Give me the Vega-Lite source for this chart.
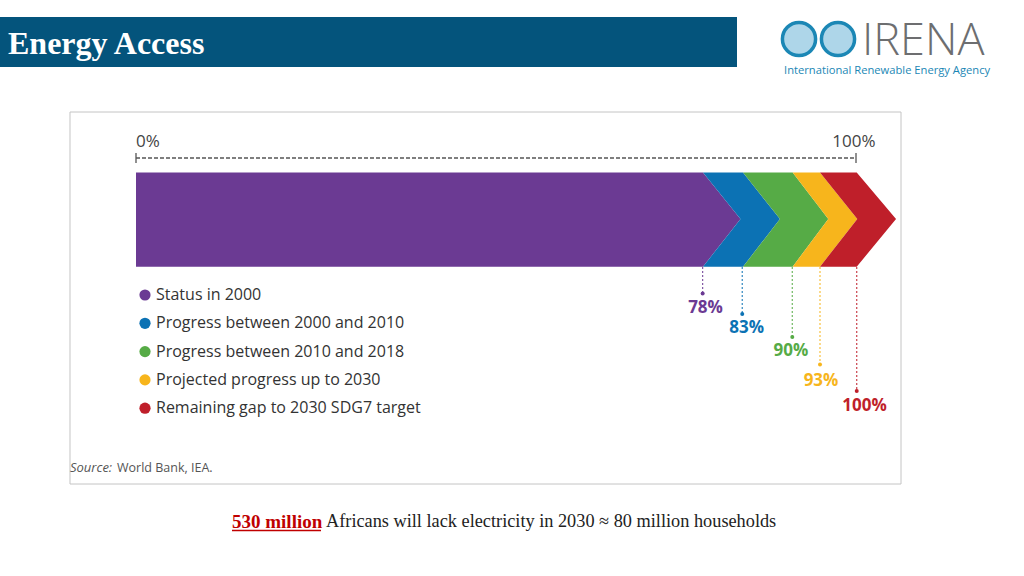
{
  "$schema": "https://vega.github.io/schema/vega-lite/v6.json",
  "width": 1024,
  "height": 576,
  "autosize": {"type": "fit", "contains": "padding"},
  "padding": 0,
  "background": "white",
  "config": {"view": {"stroke": null}},
  "encoding": {
    "x": {"field": "x", "type": "quantitative", "scale": {"domain": [-18.889, 123.333], "nice": false, "zero": false}, "axis": null},
    "y": {"field": "y", "type": "quantitative", "scale": {"domain": [0, 576], "nice": false, "zero": false, "reverse": true}, "axis": null}
  },
  "layer": [
    {
      "data": {"values": [{"x": -18.889, "x2": 83.472, "y": 17, "y2": 67}]},
      "mark": {"type": "rect", "fill": "#04547c"},
      "encoding": {"x2": {"field": "x2"}, "y2": {"field": "y2"}}
    },
    {
      "data": {"values": [{"x": -17.778, "y": 44, "t": "Energy Access"}]},
      "mark": {"type": "text", "align": "left", "baseline": "middle", "font": "Liberation Serif", "fontWeight": "bold", "fontSize": 32, "color": "white"},
      "encoding": {"text": {"field": "t"}}
    },
    {
      "data": {"values": [{"x": 92.083, "y": 39}, {"x": 97.5, "y": 39}]},
      "mark": {"type": "point", "shape": "circle", "size": 1100, "filled": false, "fill": "#8cc4e0", "fillOpacity": 0.7, "stroke": "#1b87b5", "strokeWidth": 3.5, "opacity": 1}
    },
    {
      "data": {"values": [{"x": 100.833, "y": 55, "t": "IRENA"}]},
      "mark": {"type": "text", "align": "left", "baseline": "alphabetic", "font": "Open Sans", "fontWeight": 300, "fontSize": 45, "color": "#6d6e70"},
      "encoding": {"text": {"field": "t"}}
    },
    {
      "data": {"values": [{"x": 90.0, "y": 71, "t": "International Renewable Energy Agency"}]},
      "mark": {"type": "text", "align": "left", "baseline": "middle", "font": "Open Sans", "fontSize": 11.2, "color": "#1b87b5"},
      "encoding": {"text": {"field": "t"}}
    },
    {
      "data": {"values": [{"x": -9.167, "x2": 106.25, "y": 112, "y2": 484}]},
      "mark": {"type": "rect", "fill": "white", "fillOpacity": 0, "stroke": "#c4c4c4", "strokeWidth": 1},
      "encoding": {"x2": {"field": "x2"}, "y2": {"field": "y2"}}
    },
    {
      "data": {"values": [{"x": 0, "y": 142, "t": "0%"}]},
      "mark": {"type": "text", "align": "left", "baseline": "middle", "font": "Open Sans", "fontSize": 17, "color": "#444"},
      "encoding": {"text": {"field": "t"}}
    },
    {
      "data": {"values": [{"x": 99.7, "y": 142, "t": "100%"}]},
      "mark": {"type": "text", "align": "center", "baseline": "middle", "font": "Open Sans", "fontSize": 17, "color": "#444"},
      "encoding": {"text": {"field": "t"}}
    },
    {
      "data": {"values": [{"x": 0, "x2": 100, "y": 158}]},
      "mark": {"type": "rule", "stroke": "#555", "strokeWidth": 1.5, "strokeDash": [4, 2]},
      "encoding": {"x2": {"field": "x2"}}
    },
    {
      "data": {"values": [{"x": 0, "y": 153, "y2": 163}, {"x": 100, "y": 153, "y2": 163}]},
      "mark": {"type": "rule", "stroke": "#555", "strokeWidth": 1.3},
      "encoding": {"y2": {"field": "y2"}}
    },
    {
      "data": {"values": [
        {"seg": "Status in 2000", "y": 172.5, "x": 0, "x2": 78.75},
        {"seg": "Status in 2000", "y": 219, "x": 0, "x2": 83.96},
        {"seg": "Status in 2000", "y": 266.7, "x": 0, "x2": 78.75},
        {"seg": "Progress between 2000 and 2010", "y": 172.5, "x": 78.75, "x2": 84.31},
        {"seg": "Progress between 2000 and 2010", "y": 219, "x": 83.96, "x2": 89.44},
        {"seg": "Progress between 2000 and 2010", "y": 266.7, "x": 78.75, "x2": 84.31},
        {"seg": "Progress between 2010 and 2018", "y": 172.5, "x": 84.31, "x2": 91.2},
        {"seg": "Progress between 2010 and 2018", "y": 219, "x": 89.44, "x2": 96.15},
        {"seg": "Progress between 2010 and 2018", "y": 266.7, "x": 84.31, "x2": 91.2},
        {"seg": "Projected progress up to 2030", "y": 172.5, "x": 91.2, "x2": 95.0},
        {"seg": "Projected progress up to 2030", "y": 219, "x": 96.15, "x2": 100.18},
        {"seg": "Projected progress up to 2030", "y": 266.7, "x": 91.2, "x2": 95.0},
        {"seg": "Remaining gap to 2030 SDG7 target", "y": 172.5, "x": 95.0, "x2": 100.1},
        {"seg": "Remaining gap to 2030 SDG7 target", "y": 219, "x": 100.18, "x2": 105.56},
        {"seg": "Remaining gap to 2030 SDG7 target", "y": 266.7, "x": 95.0, "x2": 100.1}
      ]},
      "mark": {"type": "area", "orient": "horizontal", "interpolate": "linear", "opacity": 1},
      "encoding": {
        "x2": {"field": "x2"},
        "color": {
          "field": "seg", "type": "nominal",
          "scale": {
            "domain": ["Status in 2000", "Progress between 2000 and 2010", "Progress between 2010 and 2018", "Projected progress up to 2030", "Remaining gap to 2030 SDG7 target"],
            "range": ["#6b3a93", "#0c72b4", "#56ab46", "#f7b51c", "#bf1f2a"]
          },
          "legend": {
            "title": null, "orient": "none", "legendX": 137, "legendY": 287,
            "symbolType": "circle", "symbolSize": 125, "symbolStrokeWidth": 0, "symbolOpacity": 1,
            "labelFont": "Open Sans", "labelFontSize": 16, "labelColor": "#333", "labelOffset": 3,
            "labelLimit": 400, "rowPadding": 12.3, "padding": 0
          }
        }
      }
    },
    {
      "data": {"values": [
        {"seg": "Status in 2000", "x": 78.7, "top": 267, "dot": 293.5, "label": "78%", "lx": 79.1, "ly": 308},
        {"seg": "Progress between 2000 and 2010", "x": 84.2, "top": 267, "dot": 314, "label": "83%", "lx": 84.82, "ly": 328},
        {"seg": "Progress between 2010 and 2018", "x": 91.15, "top": 267, "dot": 337, "label": "90%", "lx": 90.97, "ly": 351},
        {"seg": "Projected progress up to 2030", "x": 95.0, "top": 267, "dot": 364.5, "label": "93%", "lx": 95.14, "ly": 381},
        {"seg": "Remaining gap to 2030 SDG7 target", "x": 100.1, "top": 267, "dot": 391, "label": "100%", "lx": 101.18, "ly": 406}
      ]},
      "layer": [
        {
          "mark": {"type": "rule", "strokeWidth": 1.2, "strokeDash": [2, 2], "opacity": 0.85},
          "encoding": {
            "y": {"field": "top", "type": "quantitative"},
            "y2": {"field": "dot"},
            "color": {"field": "seg", "type": "nominal", "legend": null}
          }
        },
        {
          "mark": {"type": "point", "shape": "circle", "size": 16, "filled": true, "opacity": 1},
          "encoding": {
            "y": {"field": "dot", "type": "quantitative"},
            "color": {"field": "seg", "type": "nominal", "legend": null}
          }
        },
        {
          "mark": {"type": "text", "align": "center", "baseline": "middle", "font": "Open Sans", "fontWeight": "bold", "fontSize": 17},
          "encoding": {
            "x": {"field": "lx", "type": "quantitative"},
            "y": {"field": "ly", "type": "quantitative"},
            "text": {"field": "label"},
            "color": {"field": "seg", "type": "nominal", "legend": null}
          }
        }
      ]
    },
    {
      "data": {"values": [{"x": -9.167, "y": 468, "t": "Source:"}]},
      "mark": {"type": "text", "align": "left", "baseline": "middle", "font": "Open Sans", "fontStyle": "italic", "fontSize": 13, "color": "#555"},
      "encoding": {"text": {"field": "t"}}
    },
    {
      "data": {"values": [{"x": -2.639, "y": 468, "t": "World Bank, IEA."}]},
      "mark": {"type": "text", "align": "left", "baseline": "middle", "font": "Open Sans", "fontSize": 12.5, "color": "#555"},
      "encoding": {"text": {"field": "t"}}
    },
    {
      "data": {"values": [{"x": 13.333, "y": 522, "t": "530 million"}]},
      "mark": {"type": "text", "align": "left", "baseline": "middle", "font": "Liberation Serif", "fontWeight": "bold", "fontSize": 19, "color": "#c00000"},
      "encoding": {"text": {"field": "t"}}
    },
    {
      "data": {"values": [{"x": 13.333, "x2": 25.694, "y": 530.5}]},
      "mark": {"type": "rule", "stroke": "#c00000", "strokeWidth": 1.3},
      "encoding": {"x2": {"field": "x2"}}
    },
    {
      "data": {"values": [{"x": 26.389, "y": 522, "t": "Africans will lack electricity in 2030 ≈ 80 million households"}]},
      "mark": {"type": "text", "align": "left", "baseline": "middle", "font": "Liberation Serif", "fontSize": 18.3, "color": "#222"},
      "encoding": {"text": {"field": "t"}}
    }
  ]
}
